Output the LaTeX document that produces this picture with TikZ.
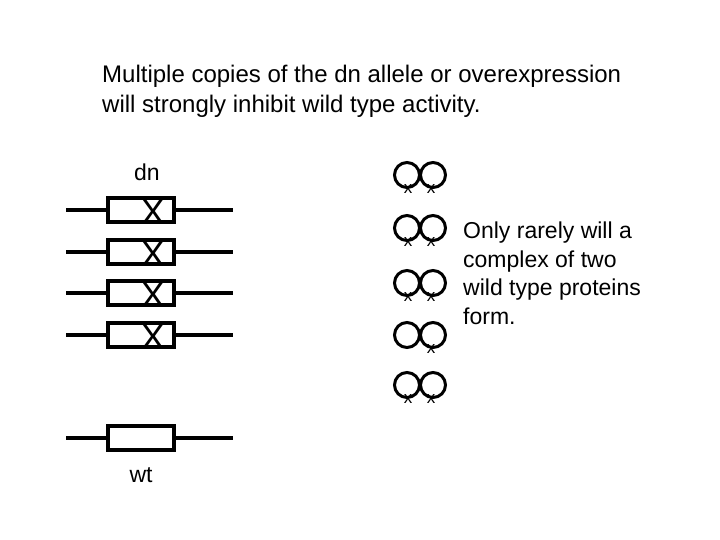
\documentclass[tikz,border=0pt]{standalone}
\usepackage{fontspec}
\setmainfont{Liberation Sans}
\begin{document}
\begin{tikzpicture}[x=1pt,y=-1pt,
 wire/.style={line width=3.5pt},
 box/.style={draw,line width=3.5pt,minimum width=66pt,minimum height=24pt,inner sep=0pt},
 bigx/.style={font=\fontsize{36}{36}\selectfont,inner sep=0pt},
 ring/.style={circle,draw,line width=3pt,minimum size=25pt,inner sep=0pt},
 lx/.style={font=\fontsize{17}{17}\selectfont,inner sep=0pt},
 txt/.style={font=\fontsize{24}{30}\selectfont,align=left,inner sep=0pt,anchor=north west}]
\useasboundingbox (0,0) rectangle (720,540);
\node[txt] (title) at (102,65) {Multiple copies of the dn allele or overexpression\\will strongly inhibit wild type activity.};
\node[font=\fontsize{23}{23}\selectfont] (dn) at (147,172) {dn};
\foreach \y/\n in {210/a,252/b,293/c,335/d}{
 \coordinate (l\n) at (66,\y); \coordinate (r\n) at (233,\y);
 \node[box] (g\n) at (141,\y) {};
 \draw[wire] (l\n) -- (g\n.west); \draw[wire] (g\n.east) -- (r\n);
 \node[bigx] (x\n) at (153,\y+2) {X};
}
\coordinate (lw) at (66,438); \coordinate (rw) at (233,438);
\node[box] (gw) at (141,438) {};
\draw[wire] (lw) -- (gw.west); \draw[wire] (gw.east) -- (rw);
\node[font=\fontsize{23}{23}\selectfont] (wt) at (141,475) {wt};
\foreach \y/\n/\s in {175/a/1,228/b/1,283/c/1,335/d/0,385/e/1}{
 \node[ring] (p\n) at (407,\y) {};
 \node[ring] (q\n) at (433,\y) {};
 \ifnum\s=1 \node[lx] (xp\n) at (408,\y+14) {x};\fi
 \node[lx] (xq\n) at (431,\y+14) {x};
}
\node[txt,font=\fontsize{23}{28.5}\selectfont] (note) at (463,222) {Only rarely will a\\complex of two\\wild type proteins\\form.};
\end{tikzpicture}
\end{document}
